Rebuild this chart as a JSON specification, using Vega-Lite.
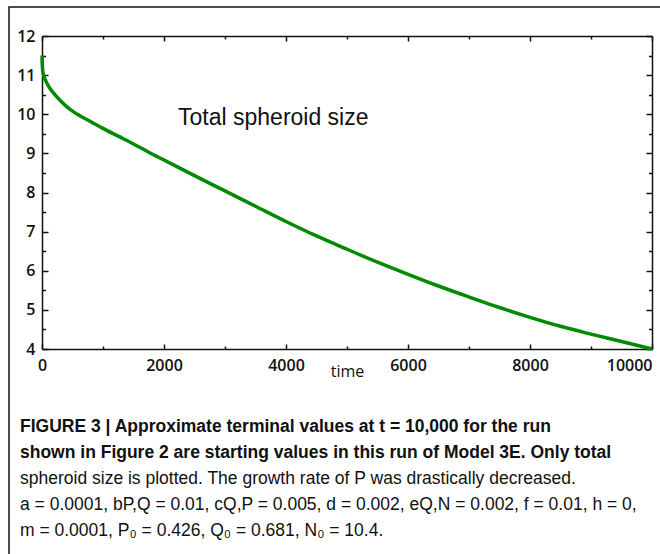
{
  "$schema": "https://vega.github.io/schema/vega-lite/v6.json",
  "autosize": "none",
  "padding": {"left": 9, "top": 7, "right": -1, "bottom": -1},
  "width": 652,
  "height": 548,
  "background": "white",
  "config": {
    "view": {"stroke": "#111", "strokeWidth": 1.5},
    "axis": {
      "grid": false,
      "labelFont": "Open Sans",
      "labelFontWeight": 600,
      "labelFontSize": 16,
      "labelColor": "#111",
      "domainColor": "#111",
      "tickColor": "#111",
      "domainWidth": 1.5,
      "tickWidth": 1.5,
      "titleFont": "Open Sans",
      "titleFontWeight": "normal",
      "titleFontSize": 16,
      "titleColor": "#111",
      "labelFlush": false,
      "labelOverlap": false
    }
  },
  "title": {
    "text": ["FIGURE 3 | Approximate terminal values at t = 10,000 for the run", "shown in Figure 2 are starting values in this run of Model 3E. Only total"],
    "subtitle": ["spheroid size is plotted. The growth rate of P was drastically decreased.", "a = 0.0001, bP,Q = 0.01, cQ,P = 0.005, d = 0.002, eQ,N = 0.002, f = 0.01, h = 0,", "m = 0.0001, P₀ = 0.426, Q₀ = 0.681, N₀ = 10.4."],
    "orient": "bottom",
    "anchor": "start",
    "frame": "group",
    "offset": -137,
    "dx": 11,
    "font": "Liberation Sans",
    "fontSize": 17.5,
    "fontWeight": "bold",
    "lineHeight": 26,
    "color": "#111",
    "subtitleFont": "Liberation Sans",
    "subtitleFontSize": 17.5,
    "subtitleFontWeight": "normal",
    "subtitleLineHeight": 26,
    "subtitleColor": "#111",
    "subtitlePadding": 8
  },
  "data": {"values": [
    {"t": 0, "v": 11.5}, {"t": 3, "v": 11.32}, {"t": 8, "v": 11.18}, {"t": 15, "v": 11.08},
    {"t": 30, "v": 10.98}, {"t": 60, "v": 10.86}, {"t": 100, "v": 10.74}, {"t": 150, "v": 10.62},
    {"t": 200, "v": 10.52}, {"t": 300, "v": 10.35}, {"t": 400, "v": 10.2}, {"t": 500, "v": 10.08},
    {"t": 600, "v": 9.98}, {"t": 800, "v": 9.81}, {"t": 1000, "v": 9.64}, {"t": 1250, "v": 9.44},
    {"t": 1500, "v": 9.24}, {"t": 1750, "v": 9.03}, {"t": 2000, "v": 8.83}, {"t": 2500, "v": 8.43},
    {"t": 3000, "v": 8.04}, {"t": 3500, "v": 7.65}, {"t": 4000, "v": 7.26}, {"t": 4500, "v": 6.89},
    {"t": 5000, "v": 6.55}, {"t": 5500, "v": 6.22}, {"t": 6000, "v": 5.91}, {"t": 6500, "v": 5.61},
    {"t": 7000, "v": 5.33}, {"t": 7500, "v": 5.06}, {"t": 8000, "v": 4.81}, {"t": 8500, "v": 4.58},
    {"t": 9000, "v": 4.38}, {"t": 9500, "v": 4.19}, {"t": 10000, "v": 4.0}
  ]},
  "layer": [
    {
      "mark": {"type": "line", "color": "#008a00", "strokeWidth": 3.5, "interpolate": "monotone"},
      "encoding": {
        "x": {"field": "t", "type": "quantitative",
          "scale": {"domain": [0, 10000], "range": [33, 643], "nice": false, "zero": false},
          "axis": {"orient": "bottom", "offset": -206, "domain": false, "ticks": false,
            "values": [0, 2000, 4000, 6000, 8000, 10000], "format": "d", "labelPadding": 8,
            "labelAlign": {"condition": {"test": "datum.value === 10000", "value": "right"}, "value": "center"},
            "title": "time", "titlePadding": -10}},
        "y": {"field": "v", "type": "quantitative",
          "scale": {"domain": [4, 12], "range": [342, 29], "nice": false, "zero": false},
          "axis": {"orient": "left", "offset": -33, "domain": false, "ticks": false,
            "values": [4, 5, 6, 7, 8, 9, 10, 11, 12], "format": "d", "labelPadding": 7, "title": null}}
      }
    },
    {
      "mark": {"type": "line", "opacity": 0},
      "encoding": {
        "x": {"field": "t", "type": "quantitative",
          "scale": {"domain": [0, 10000], "range": [33, 643], "nice": false, "zero": false},
          "axis": {"orient": "bottom", "offset": -206, "domain": true, "labels": false,
            "values": [0, 2000, 4000, 6000, 8000, 10000], "tickSize": -5, "title": null}},
        "y": {"field": "v", "type": "quantitative",
          "scale": {"domain": [4, 12], "range": [342, 29], "nice": false, "zero": false},
          "axis": {"orient": "left", "offset": -33, "domain": true, "labels": false,
            "values": [4, 5, 6, 7, 8, 9, 10, 11, 12], "tickSize": -6, "title": null}}
      }
    },
    {
      "mark": {"type": "line", "opacity": 0},
      "encoding": {
        "x": {"field": "t", "type": "quantitative",
          "scale": {"domain": [0, 10000], "range": [33, 643], "nice": false, "zero": false},
          "axis": {"orient": "bottom", "offset": -206, "domain": false, "labels": false,
            "values": [1000, 3000, 5000, 7000, 9000], "tickSize": -3, "title": null}},
        "y": {"field": "v", "type": "quantitative",
          "scale": {"domain": [4, 12], "range": [342, 29], "nice": false, "zero": false},
          "axis": {"orient": "left", "offset": -33, "domain": false, "labels": false,
            "values": [4.5, 5.5, 6.5, 7.5, 8.5, 9.5, 10.5, 11.5], "tickSize": -3.5, "title": null}}
      }
    },
    {
      "mark": {"type": "line", "opacity": 0},
      "encoding": {
        "x": {"field": "t", "type": "quantitative",
          "scale": {"domain": [0, 10000], "range": [33, 643], "nice": false, "zero": false},
          "axis": {"orient": "top", "offset": -29, "domain": true, "labels": false,
            "values": [0, 2000, 4000, 6000, 8000, 10000], "tickSize": -5, "title": null}},
        "y": {"field": "v", "type": "quantitative",
          "scale": {"domain": [4, 12], "range": [342, 29], "nice": false, "zero": false},
          "axis": {"orient": "right", "offset": -9, "domain": true, "labels": false,
            "values": [4, 5, 6, 7, 8, 9, 10, 11, 12], "tickSize": -6, "title": null}}
      }
    },
    {
      "mark": {"type": "line", "opacity": 0},
      "encoding": {
        "x": {"field": "t", "type": "quantitative",
          "scale": {"domain": [0, 10000], "range": [33, 643], "nice": false, "zero": false},
          "axis": {"orient": "top", "offset": -29, "domain": false, "labels": false,
            "values": [1000, 3000, 5000, 7000, 9000], "tickSize": -3, "title": null}},
        "y": {"field": "v", "type": "quantitative",
          "scale": {"domain": [4, 12], "range": [342, 29], "nice": false, "zero": false},
          "axis": {"orient": "right", "offset": -9, "domain": false, "labels": false,
            "values": [4.5, 5.5, 6.5, 7.5, 8.5, 9.5, 10.5, 11.5], "tickSize": -3.5, "title": null}}
      }
    },
    {
      "data": {"values": [{"t": 2230, "v": 9.725, "label": "Total spheroid size"}]},
      "mark": {"type": "text", "align": "left", "baseline": "alphabetic", "font": "Liberation Sans", "fontSize": 23, "color": "#111"},
      "encoding": {
        "x": {"field": "t", "type": "quantitative",
          "scale": {"domain": [0, 10000], "range": [33, 643], "nice": false, "zero": false}, "axis": null},
        "y": {"field": "v", "type": "quantitative",
          "scale": {"domain": [4, 12], "range": [342, 29], "nice": false, "zero": false}, "axis": null},
        "text": {"field": "label"}
      }
    }
  ],
  "resolve": {"axis": {"x": "independent", "y": "independent"}}
}
